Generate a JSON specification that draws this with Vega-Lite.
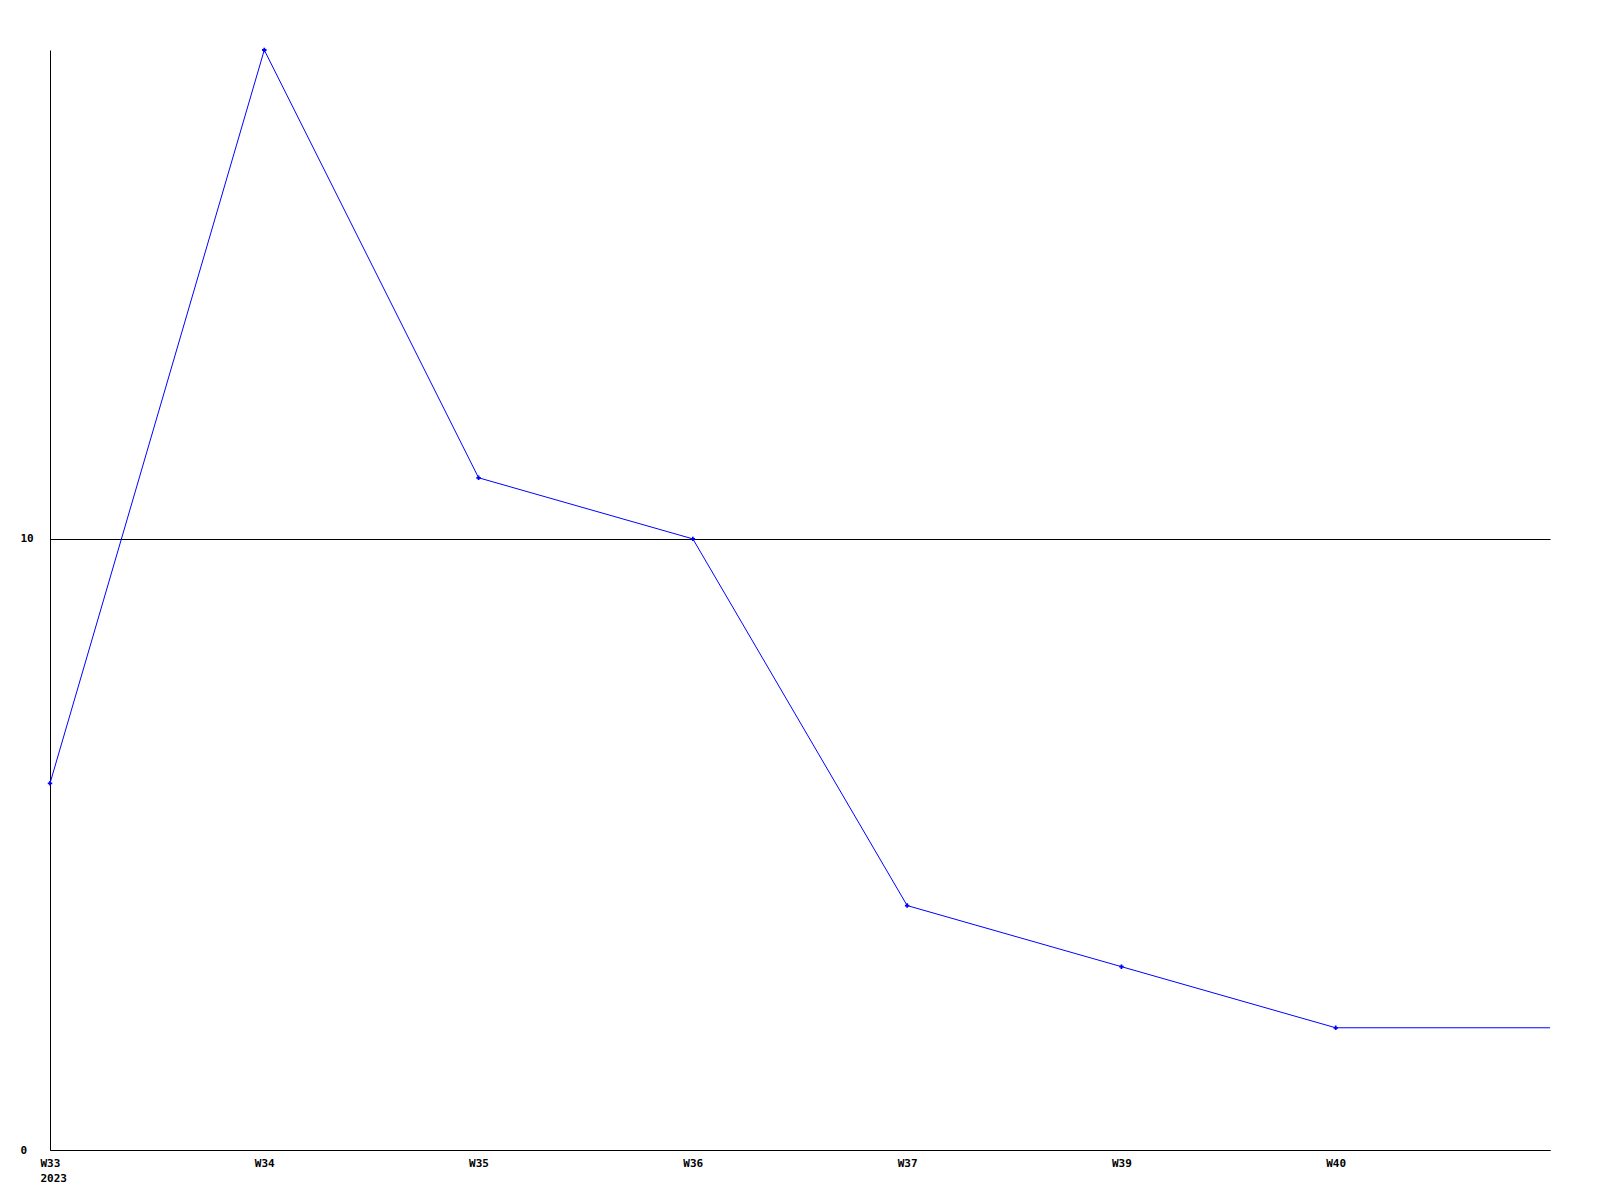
{
  "$schema": "https://vega.github.io/schema/vega-lite/v6.json",
  "width": 1500,
  "height": 1100,
  "autosize": {"type": "none"},
  "padding": {"left": 50, "top": 50, "right": 50, "bottom": 50},
  "background": "white",
  "config": {
    "view": {"stroke": null},
    "axis": {
      "labelFont": "DejaVu Sans Mono",
      "labelFontWeight": "bold",
      "labelFontSize": 11,
      "labelColor": "black",
      "domainColor": "black",
      "domainWidth": 1,
      "ticks": false,
      "title": null
    }
  },
  "data": {
    "values": [
      {"week": "W33", "v": 6},
      {"week": "W34", "v": 18},
      {"week": "W35", "v": 11},
      {"week": "W36", "v": 10},
      {"week": "W37", "v": 4},
      {"week": "W39", "v": 3},
      {"week": "W40", "v": 2},
      {"week": "W41", "v": 2}
    ]
  },
  "encoding": {
    "x": {
      "field": "week",
      "type": "ordinal",
      "sort": null,
      "scale": {"type": "point", "padding": 0},
      "axis": {
        "labelAngle": 0,
        "labelAlign": "left",
        "labelOffset": -10,
        "labelPadding": 7,
        "labelLineHeight": 15,
        "grid": false,
        "labelExpr": "datum.value == 'W33' ? ['W33', '2023'] : (datum.value == 'W41' ? '' : datum.value)"
      }
    },
    "y": {
      "field": "v",
      "type": "quantitative",
      "scale": {"domain": [0, 18], "nice": false, "zero": true},
      "axis": {
        "values": [0, 10],
        "grid": true,
        "gridColor": "black",
        "gridOpacity": 1,
        "gridWidth": 1,
        "labelAlign": "left",
        "labelPadding": 30
      }
    }
  },
  "layer": [
    {"mark": {"type": "line", "color": "#0000ff", "strokeWidth": 1}},
    {
      "transform": [{"filter": "datum.week != 'W41'"}],
      "mark": {"type": "point", "shape": "cross", "filled": true, "color": "#0000ff", "size": 20, "opacity": 1}
    }
  ]
}
